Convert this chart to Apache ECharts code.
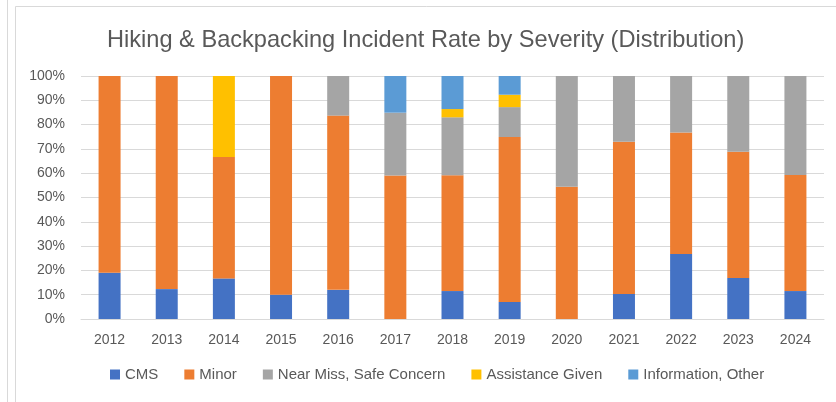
<!DOCTYPE html>
<html><head><meta charset="utf-8">
<script src="https://cdn.jsdelivr.net/npm/echarts@6/dist/echarts.min.js"></script>
<style>html,body{margin:0;padding:0;background:#fff}#c{width:836px;height:402px}</style>
</head><body><div id="c"></div>
<script>
const years = ['2012','2013','2014','2015','2016','2017','2018','2019','2020','2021','2022','2023','2024'];
const cms        = [19.0, 12.3, 16.7, 10.0, 12.0, 0,    11.5, 7.0,  0,    10.3, 26.8, 16.9, 11.5];
const minor      = [81.0, 87.7, 50.0, 90.0, 71.7, 59.1, 47.7, 67.9, 54.4, 62.6, 50.0, 51.9, 47.8];
const nearMiss   = [0,    0,    0,    0,    16.3, 25.8, 23.8, 12.3, 45.6, 27.1, 23.2, 31.2, 40.7];
const assistance = [0,    0,    33.3, 0,    0,    0,    3.4,  5.1,  0,    0,    0,    0,    0];
const info       = [0,    0,    0,    0,    0,    15.1, 13.6, 7.7,  0,    0,    0,    0,    0];
const yTicks = [0,10,20,30,40,50,60,70,80,90,100];

const names = ['CMS','Minor','Near Miss, Safe Concern','Assistance Given','Information, Other'];
const colors = ['#4472C4','#ED7D31','#A5A5A5','#FFC000','#5B9BD5'];
const dataSets = [cms, minor, nearMiss, assistance, info];
const font = '"Liberation Sans", Arial, sans-serif';

const chart = echarts.init(document.getElementById('c'));
chart.setOption({
  animation:false,
  backgroundColor:'#fff',
  graphic:[
    {type:'line', shape:{x1:7.5,y1:0,x2:7.5,y2:402}, style:{stroke:'#d9d9d9',lineWidth:1}},
    {type:'rect', shape:{x:15.5,y:6.5,width:840,height:420}, style:{fill:'none',stroke:'#d9d9d9',lineWidth:1}}
  ],
  title:{text:'Hiking & Backpacking Incident Rate by Severity (Distribution)', left:102, top:23,
    textStyle:{fontFamily:font, fontSize:23.6, fontWeight:'normal', color:'#595959'}},
  legend:{bottom:15, left:105, itemWidth:10, itemHeight:10, itemGap:26, icon:'rect',
    textStyle:{fontFamily:font, fontSize:15, color:'#595959'}, data:names},
  grid:{left:81, right:12, top:76, bottom:83},
  xAxis:{type:'category', data:years,
    axisLine:{lineStyle:{color:'#d9d9d9'}}, axisTick:{show:false},
    axisLabel:{fontFamily:font, fontSize:14, color:'#595959', margin:14}},
  yAxis:{type:'value', min:yTicks[0], max:yTicks[yTicks.length-1], interval:yTicks[1]-yTicks[0],
    axisLine:{show:false}, axisTick:{show:false},
    splitLine:{lineStyle:{color:'#d9d9d9'}},
    axisLabel:{fontFamily:font, fontSize:14, color:'#595959', margin:16, formatter:v=>v+'%'}},
  series: names.map((n,i)=>({name:n, type:'bar', stack:'t', barWidth:22, data:dataSets[i],
    itemStyle:{color:colors[i]}}))
});
</script></body></html>
